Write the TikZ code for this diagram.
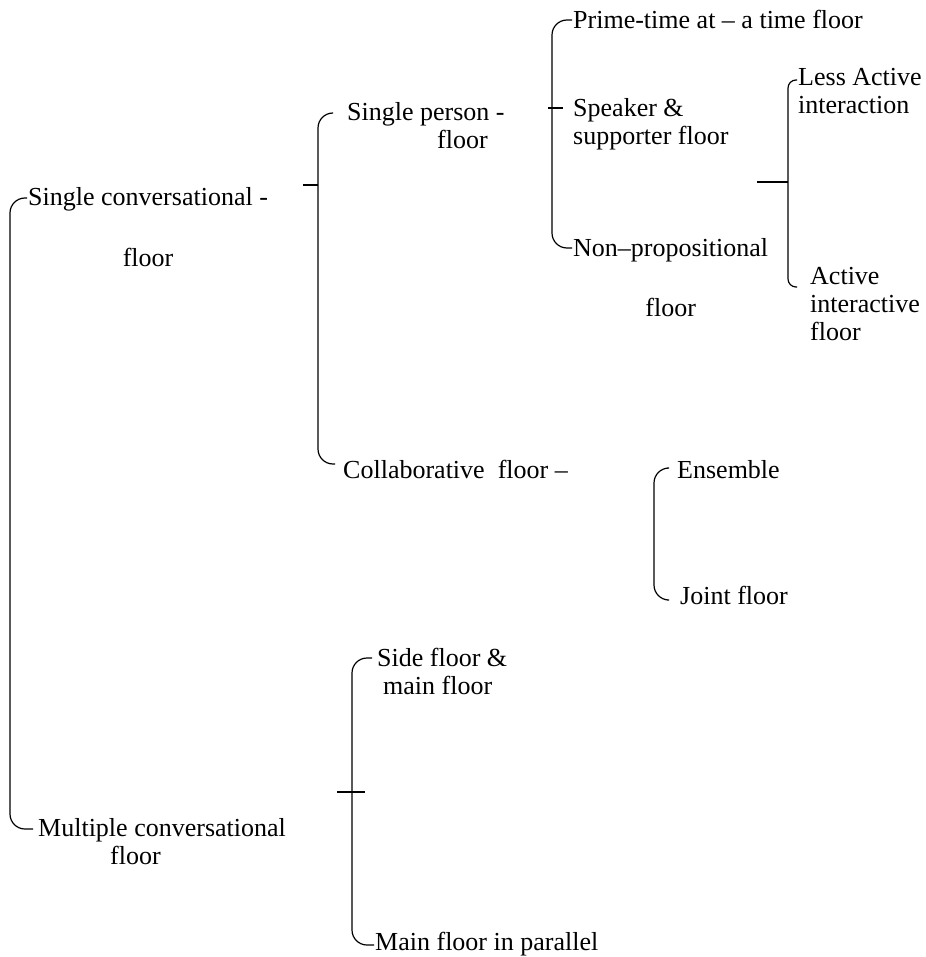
\documentclass[tikz,border=0pt]{standalone}
\usepackage{fontspec}
\setmainfont{Liberation Serif}
\usetikzlibrary{positioning}
\begin{document}
\begin{tikzpicture}[x=1pt,y=-1pt,
            floortext/.style={anchor=north west, inner sep=0pt, align=left,
                              font=\fontsize{26}{28}\selectfont},
            bracket/.style={line width=1.2pt, rounded corners=15pt},
            tick/.style={line width=1.2pt}
         ]
      \useasboundingbox (0,0) rectangle (925,957);
      % texts
      \node[floortext, align=center] (scf) at (28,187) {Single conversational -\\[33pt]floor};
      \node[floortext] (spf)  at (347,102) {Single person -\\\hspace*{90pt}floor};
      \node[floortext] (prm)  at (573,10)  {Prime-time at -- a time floor};
      \node[floortext] (spk)  at (573,98)  {Speaker \&\\supporter floor};
      \node[floortext, align=center] (nonp) at (573,238) {Non--propositional\\[32pt]floor};
      \node[floortext] (less) at (798,68)  {Less Active\\interaction};
      \node[floortext] (act)  at (810,267) {Active\\interactive\\floor};
      \node[floortext] (col)  at (343,460) {Collaborative\ \ floor --};
      \node[floortext] (ens)  at (677,460) {Ensemble};
      \node[floortext] (jnt)  at (680,586) {Joint floor};
      \node[floortext] (side) at (377,648) {Side floor \&\\\hspace*{6pt}main floor};
      \node[floortext] (mult) at (38,818)  {Multiple conversational\\\hspace*{72pt}floor};
      \node[floortext] (mfp)  at (375,932) {Main floor in parallel};

      % bracket ends
      \coordinate (scf-in)  at ([shift={(-1,11)}]scf.north west);
      \coordinate (mult-in) at ([shift={(-5,11)}]mult.north west);
      \coordinate (spf-in)  at ([shift={(-15,11)}]spf.north west);
      \coordinate (col-in)  at ([shift={(-8,4)}]col.north west);
      \coordinate (prm-in)  at ([shift={(-1,10)}]prm.north west);
      \coordinate (nonp-in) at ([shift={(-1,10)}]nonp.north west);
      \coordinate (less-in) at ([shift={(-1,12)}]less.north west);
      \coordinate (act-in)  at ([shift={(-13,20)}]act.north west);
      \coordinate (ens-in)  at ([shift={(-10,8)}]ens.north west);
      \coordinate (jnt-in)  at ([shift={(-13,14)}]jnt.north west);
      \coordinate (side-in) at ([shift={(-5,10)}]side.north west);
      \coordinate (mfp-in)  at ([shift={(-1,13)}]mfp.north west);

      % bracket spines
      \coordinate (s1) at (10,500);
      \coordinate (s2) at (318,185);
      \coordinate (s3) at (552,108);
      \coordinate (s4) at (788,182);
      \coordinate (s5) at (654,530);
      \coordinate (s6) at (352,792);

      \draw[bracket] (scf-in) -| (s1) |- (mult-in);
      \draw[bracket] (spf-in) -| (s2) |- (col-in);
      \draw[bracket] (prm-in) -| (s3) |- (nonp-in);
      \draw[bracket, rounded corners=8pt] (less-in) -| (s4) |- (act-in);
      \draw[bracket] (ens-in) -| (s5) |- (jnt-in);
      \draw[bracket] (side-in) -| (s6) |- (mfp-in);

      % ticks
      \draw[tick] (s2) -- ++(-15,0);
      \draw[tick] ([xshift=-4pt]s3) -- ([xshift=11pt]s3);
      \draw[tick] (s4) -- ++(-31,0);
      \draw[tick] ([xshift=-15pt]s6) -- ([xshift=13pt]s6);
   \end{tikzpicture}
\end{document}
